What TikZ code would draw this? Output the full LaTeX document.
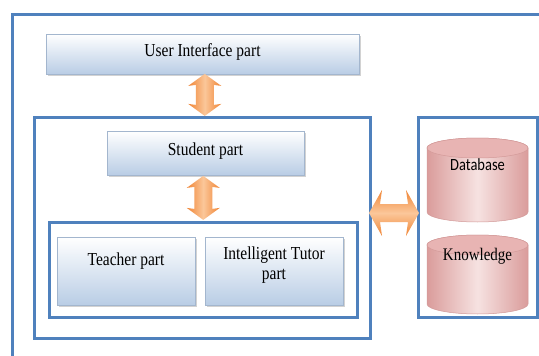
\documentclass[tikz,border=0pt]{standalone}
\usepackage{fontspec}
\setmainfont{Liberation Serif}
\newfontfamily\calib{Carlito}
\usetikzlibrary{shadows,calc}
\definecolor{frameblue}{HTML}{4F81BD}
\definecolor{boxbot}{HTML}{B9CDE5}
\definecolor{boxline}{HTML}{A3B6CE}
\definecolor{cylA}{HTML}{F6E2E1}
\definecolor{cylB}{HTML}{DA9C9B}
\definecolor{cylTop}{HTML}{E8B4B3}
\definecolor{cylline}{HTML}{D39A99}
\definecolor{orA}{HTML}{FBC79A}
\definecolor{orB}{HTML}{F08535}
\newcommand\tallt[1]{\scalebox{1}[1.18]{#1}}
\tikzset{
  frame/.style={draw=frameblue, line width=3pt},
  partbox/.style={rectangle, draw=boxline, line width=0.6pt, top color=white, bottom color=boxbot,
    drop shadow={shadow xshift=1.5pt, shadow yshift=-1.8pt, opacity=0.35}, inner sep=0pt},
  lbl/.style={font=\fontsize{15.5}{17}\selectfont, inner sep=0pt},
  cylbody/.style={draw=cylline, line width=0.5pt, left color=cylB, right color=cylB, middle color=cylA},
  cyltop/.style={draw=cylline, line width=0.5pt, fill=cylTop},
  vbarrow/.style={draw=none, left color=orB, right color=orB, middle color=orA},
  hbarrow/.style={draw=none, top color=orB, bottom color=orB, middle color=orA},
}
% cylinder: #1 centre x, #2 top y, #3 bottom y (picture coordinates)
\newcommand\mycyl[3]{%
  \begin{scope}[shift={(#1,#3)}, y=1pt]
    \pgfmathsetmacro\hh{(#3)-(#2)-20}
    \path[cylbody] (-50.5,\hh) -- (-50.5,0) arc[start angle=180, end angle=360, x radius=50.5, y radius=10]
      -- (50.5,\hh) arc[start angle=0, end angle=180, x radius=50.5, y radius=10] -- cycle;
    \path[cyltop] (0,\hh) ellipse[x radius=50.5, y radius=10];
  \end{scope}}
\begin{document}
\begin{tikzpicture}[x=1pt,y=-1pt]
\useasboundingbox (0,0) rectangle (539,356);
\clip (0,0) rectangle (539,356);
\fill[white] (0,0) rectangle (539,356);
% outer frame (cut by the picture edge)
\draw[frame] (12,14) rectangle (560,380);
% frames
\node[frame, rectangle, minimum width=336pt, minimum height=221pt] (mid) at (202,227.5) {};
\node[frame, rectangle, minimum width=308pt, minimum height=95pt] (inner) at (203,269.5) {};
\node[frame, rectangle, minimum width=119pt, minimum height=200pt] (rframe) at (477.5,217) {};
% parts
\node[partbox, minimum width=313pt, minimum height=40pt] (ui) at (202.5,54) {};
\node[partbox, minimum width=197pt, minimum height=44pt] (student) at (205.5,153) {};
\node[partbox, minimum width=138pt, minimum height=68pt] (teacher) at (126,271) {};
\node[partbox, minimum width=138pt, minimum height=68pt] (tutor) at (274,271) {};
\node[lbl] at ($(ui.center)+(0,-2)$) {\tallt{User Interface part}};
\node[lbl] at ($(student.center)+(0,-1.5)$) {\tallt{Student part}};
\node[lbl] at ($(teacher.center)+(0,-10)$) {\tallt{Teacher part}};
\node[lbl] at ($(tutor.center)+(0,-16)$) {\tallt{Intelligent Tutor}};
\node[lbl] at ($(tutor.center)+(0,5)$) {\tallt{part}};
% databases
\mycyl{477.5}{128}{212}
\mycyl{477.5}{225}{304}
\node[inner sep=0pt, minimum width=101pt, minimum height=84pt] (db) at (477.5,170) {};
\node[inner sep=0pt, minimum width=101pt, minimum height=79pt] (kn) at (477.5,264.5) {};
\node[inner sep=0pt, font=\calib\fontsize{14.5}{16}\selectfont] at ($(db.center)+(0,-5)$) {\tallt{Database}};
\node[lbl, font=\fontsize{15}{17}\selectfont] at ($(kn.center)+(0,-8)$) {\tallt{Knowledge}};
% block arrows
\begin{scope}[shift={($(ui.south)!0.5!(mid.north)+(2.5,0)$)}, y=1pt]
  \path[vbarrow] (0,21) -- (16.5,9) -- (9,10) -- (9,-10) -- (16.5,-9) -- (0,-21)
    -- (-16.5,-9) -- (-9,-10) -- (-9,10) -- (-16.5,9) -- cycle;
\end{scope}
\begin{scope}[shift={($(student.south)!0.5!(inner.north)+(-1,0)$)}, y=1pt]
  \path[vbarrow] (0,22) -- (16.5,10) -- (9,11) -- (9,-11) -- (16.5,-10) -- (0,-22)
    -- (-16.5,-10) -- (-9,-11) -- (-9,11) -- (-16.5,10) -- cycle;
\end{scope}
\begin{scope}[shift={($(mid.east|-0,213)!0.5!(rframe.west|-0,213)$)}, y=1pt]
  \path[hbarrow] (-25,0) -- (-12,23) -- (-14,9) -- (14,9) -- (12,23) -- (25,0)
    -- (12,-23) -- (14,-9) -- (-14,-9) -- (-12,-23) -- cycle;
\end{scope}
\end{tikzpicture}
\end{document}
